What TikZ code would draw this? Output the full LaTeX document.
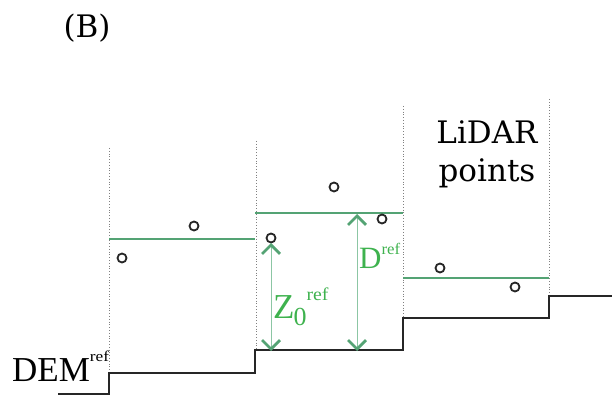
\documentclass[tikz,border=0pt]{standalone}
\usepackage{fontspec}
\setmainfont{Liberation Serif}
\newfontfamily\widefont{DejaVu Serif}
\usepackage{graphicx}
\usepackage{xcolor}
\usepackage{tikz}
\usetikzlibrary{arrows.meta,positioning,calc}

\definecolor{refgreen}{RGB}{84,163,116}
\definecolor{labelgreen}{RGB}{62,178,78}
\definecolor{shaftgreen}{RGB}{140,198,164}

% small raised/lowered pieces of the labels
\newcommand{\supref}[3]{\raisebox{#1}{\scalebox{#3}[1]{\fontsize{#2}{#2}\selectfont ref}}}
\newcommand{\subzero}{\kern-1pt\raisebox{-7pt}{\fontsize{26}{26}\selectfont 0}}

\begin{document}
\begin{tikzpicture}[
    x=1pt, y=-1pt,
    widetext/.style={font=\widefont\fontsize{31}{38}\selectfont, inner sep=0pt},
    labeltext/.style={font=\fontsize{35}{38}\selectfont, inner sep=0pt},
    lidar/.style={circle, draw=black!85, line width=1.8pt, inner sep=0pt, minimum size=9pt},
    cellgrid/.style={draw=gray, line width=0.6pt, dash pattern=on 0.8pt off 2pt},
    dem/.style={draw=black!85, line width=2.2pt},
    refline/.style={draw=refgreen, line width=1.8pt},
    height/.style={draw=shaftgreen, line width=1pt,
      {Straight Barb[length=9pt, width=18pt, line width=2.8pt, color=refgreen]}-{Straight Barb[length=9pt, width=18pt, line width=2.8pt, color=refgreen]}}
  ]
    \useasboundingbox (0,0) rectangle (612,395);

    \node[widetext, anchor=base] (panel) at (87,38) {(B)};

    % cell borders
    \foreach \c/\x/\t/\b in {1/109/148/372,2/256/141/350,3/403/106/318,4/549/99/294} {
      \draw[cellgrid] (\x,\t) -- (\x,\b);
    }

    % DEM steps
    \draw[dem] (58,394) -| (109,373) -| (255,350) -| (403,318) -| (549,296) -- (612,296);

    % mean heights per cell
    \draw[refline] (109,239) -- (255,239);
    \draw[refline] (255,213) -- (403,213);
    \draw[refline] (403,278) -- (549,278);

    % lidar returns
    \foreach \i/\x/\y in {1/122/258,2/194/226,3/271/238,4/334/187,5/382/219,6/440/268,7/515/287} {
      \node[lidar] (p\i) at (\x,\y) {};
    }

    \coordinate (z0top) at (271,243);
    \coordinate (z0bot) at (271,351);
    \coordinate (dtop) at (357,214);
    \coordinate (dbot) at (357,351);
    \draw[height] (z0top) -- (z0bot);
    \draw[height] (dtop) -- (dbot);

    \node[labeltext, text=labelgreen, anchor=base west] (zlabel) at (273,318) {Z\subzero\supref{18pt}{18}{1.1}};
    \node[labeltext, font=\fontsize{31}{36}\selectfont, text=labelgreen, anchor=base west] (dlabel) at (359,268) {D\supref{14pt}{16}{1.05}};
    \node[labeltext, anchor=base west] (demlabel) at (12,381) {DEM\supref{20pt}{15}{1.15}};
    \node[widetext, align=center, anchor=north] (lidarlabel) at (487,120) {LiDAR\\points};
  \end{tikzpicture}
\end{document}
